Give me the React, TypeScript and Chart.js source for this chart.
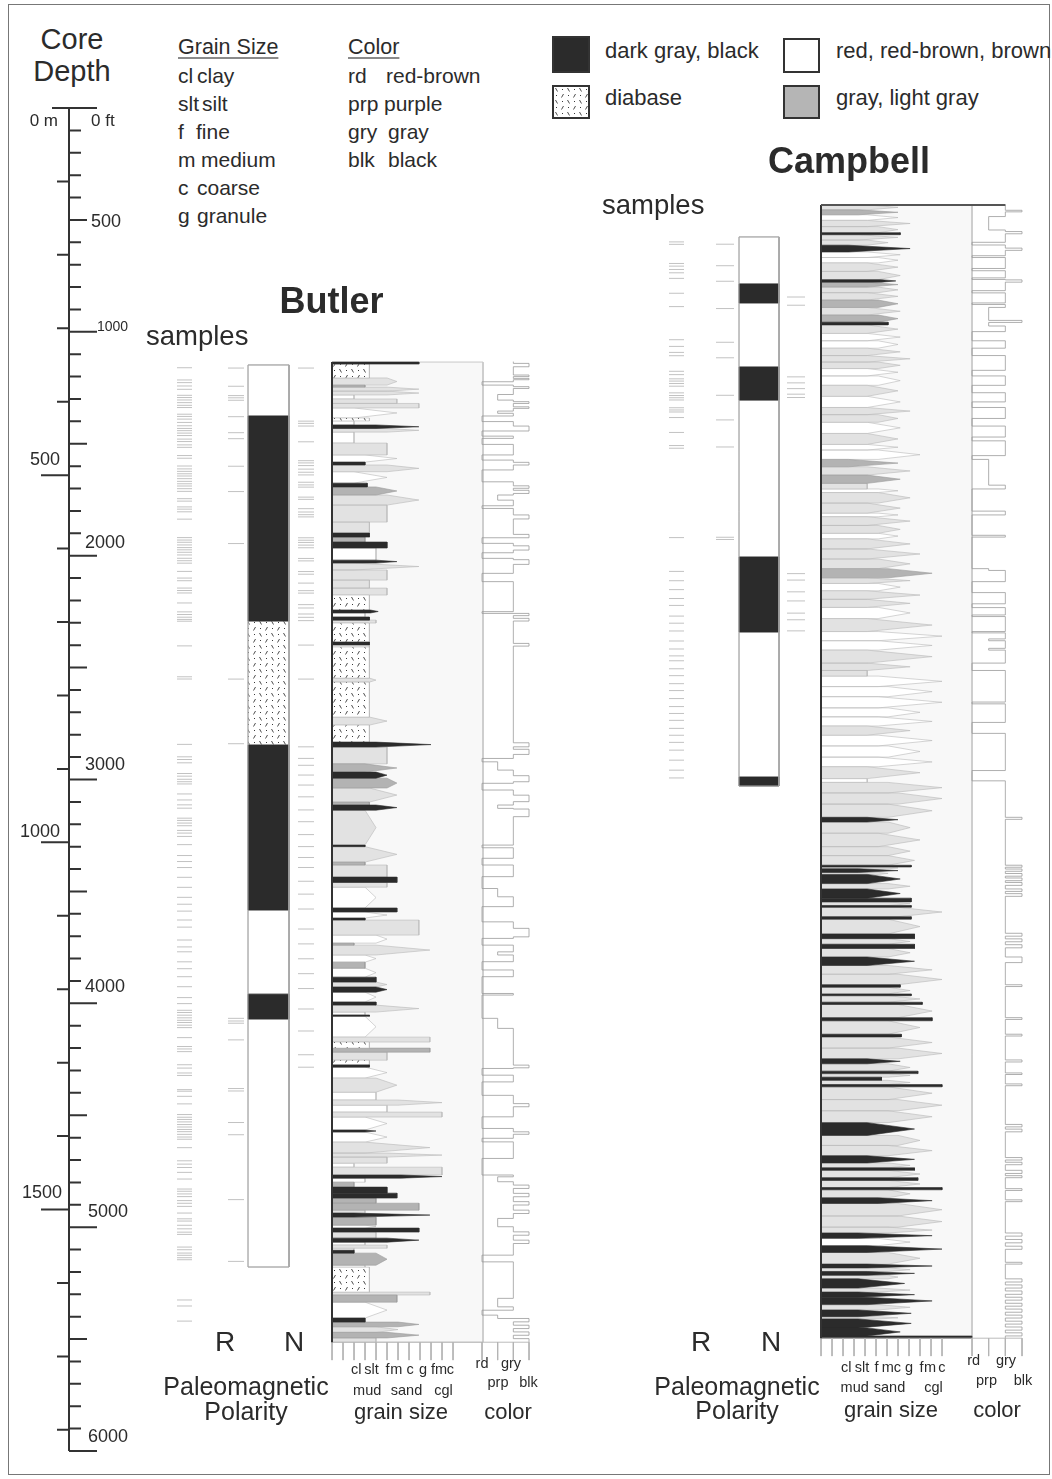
import React, { useEffect, useRef } from "react";
import { Chart, registerables } from "chart.js";

Chart.register(...registerables);

/* ---------------- depth frame (0..6000 ft) ---------------- */
const DEPTH_MAX_FT = 6000;
const PLOT_TOP = 108; // page y of 0 ft
const PLOT_H = 1343; // px spanned by 0..6000 ft
const PAD_V = 4;
const FT_PER_M = 3.28084;
const TICK_FT = 80; // length of the small scale ticks under the logs (in ft)
const GRAIN_PX = 11; // px per grain-size class
const GRAIN_AREA_W = 151;

const FT_TICKS: number[] = [];
for (let f = 100; f <= 6000; f += 100) FT_TICKS.push(f);
const M_TICKS: number[] = [];
for (let m = 100; m <= 1800; m += 100) M_TICKS.push(m);
const GRAIN_TICKS = [0, 1, 2, 3, 4, 5, 6, 7, 8, 9, 10, 11];
const COLOR_TICKS = [0, 1, 2, 3];

const GRAIN_LABELS = ["cl", "slt", "f", "m", "c", "g", "f", "m", "c"];
const GRAIN_GROUPS = ["mud", "sand", "cgl"];
const COLOR_LABELS_TOP = ["rd", "gry"];
const COLOR_LABELS_BOTTOM = ["prp", "blk"];

type Bed = [number, number, number, string]; // [top ft, grain of bed body, grain at spike tip, lithology]
type Step = [number, number]; // [depth ft, colour level 0 rd,1 prp,2 gry,3 blk]

/* ---------------- Butler ---------------- */
const BUTLER_BASE = 5514;
const BUTLER_BEDS: Bed[] = [
  [1135, 7.9, 7.9, "k"], [1144, 3.4, 3.4, "d"], [1206, 5.0, 5.9, "l"], [1238, 3.0, 3.0, "g"],
  [1247, 5.0, 7.9, "l"], [1265, 5.0, 7.9, "l"], [1282, 2.0, 2.0, "w"], [1300, 5.9, 5.9, "l"],
  [1320, 7.9, 7.9, "l"], [1340, 2.0, 5.9, "w"], [1385, 3.4, 3.4, "d"], [1398, 2.0, 2.0, "w"],
  [1416, 4.0, 7.9, "k"], [1432, 5.0, 7.9, "l"], [1448, 2.0, 2.0, "w"], [1497, 5.0, 5.0, "l"],
  [1550, 3.0, 5.9, "w"], [1582, 3.0, 3.0, "k"], [1595, 5.0, 7.9, "l"], [1625, 2.0, 5.0, "w"],
  [1676, 3.2, 3.2, "k"], [1693, 4.0, 5.9, "g"], [1729, 5.0, 7.9, "l"], [1774, 5.0, 5.0, "l"],
  [1850, 3.4, 3.4, "l"], [1899, 3.4, 3.4, "k"], [1917, 3.0, 3.0, "g"], [1939, 5.0, 5.0, "k"],
  [1966, 4.0, 4.0, "w"], [2020, 4.0, 5.9, "k"], [2033, 2.0, 7.9, "l"], [2064, 5.0, 5.0, "l"],
  [2109, 3.4, 3.4, "l"], [2145, 5.0, 5.0, "l"], [2176, 3.4, 3.4, "d"], [2243, 3.5, 4.2, "k"],
  [2256, 3.0, 3.0, "w"], [2274, 3.4, 3.4, "k"], [2288, 4.0, 4.0, "l"], [2301, 3.4, 3.4, "d"],
  [2386, 3.4, 3.4, "k"], [2399, 3.4, 3.4, "w"], [2408, 3.4, 3.4, "d"], [2547, 3.4, 4.0, "l"],
  [2565, 3.4, 3.4, "d"], [2721, 3.4, 5.0, "l"], [2757, 3.4, 3.4, "d"], [2833, 4.0, 9.0, "k"],
  [2855, 5.0, 5.0, "l"], [2930, 3.0, 5.9, "g"], [2967, 4.0, 5.0, "k"], [2994, 5.0, 5.9, "g"],
  [3038, 3.4, 5.9, "l"], [3101, 3.4, 3.4, "g"], [3114, 4.0, 5.9, "k"], [3137, 3.0, 4.0, "l"],
  [3293, 3.0, 3.0, "k"], [3300, 3.0, 5.9, "l"], [3369, 3.0, 3.0, "g"], [3382, 5.0, 5.0, "l"],
  [3436, 5.9, 5.9, "k"], [3460, 5.0, 5.0, "l"], [3481, 3.0, 4.0, "w"], [3574, 5.9, 5.9, "k"],
  [3592, 3.0, 5.0, "w"], [3619, 3.0, 3.0, "k"], [3628, 7.9, 7.9, "l"], [3695, 4.0, 5.0, "w"],
  [3731, 2.0, 2.0, "g"], [3740, 4.0, 8.9, "l"], [3784, 3.0, 4.0, "w"], [3816, 3.0, 3.0, "g"],
  [3843, 3.0, 4.0, "w"], [3883, 4.0, 4.0, "k"], [3905, 4.0, 5.0, "l"], [3927, 4.0, 5.0, "k"],
  [3950, 3.0, 4.0, "w"], [3994, 4.0, 4.0, "k"], [4008, 4.0, 7.9, "l"], [4039, 3.0, 3.0, "w"],
  [4052, 3.4, 3.4, "k"], [4058, 3.0, 4.0, "w"], [4151, 8.9, 8.9, "l"], [4173, 3.4, 3.4, "d"],
  [4200, 8.9, 8.9, "g"], [4218, 5.0, 5.0, "l"], [4254, 3.4, 3.4, "d"], [4275, 3.4, 3.4, "k"],
  [4285, 3.0, 5.0, "w"], [4334, 4.0, 5.9, "l"], [4397, 4.0, 4.0, "w"], [4432, 6.0, 10.0, "l"],
  [4455, 5.0, 5.0, "w"], [4486, 10.0, 10.0, "l"], [4508, 3.0, 5.0, "w"], [4566, 3.0, 4.0, "k"],
  [4575, 3.0, 5.0, "w"], [4620, 3.0, 8.9, "l"], [4669, 5.0, 10.0, "l"], [4687, 5.0, 5.0, "l"],
  [4714, 2.0, 2.0, "w"], [4732, 10.0, 10.0, "l"], [4767, 6.3, 10.0, "k"], [4781, 3.0, 3.0, "w"],
  [4799, 2.0, 2.0, "g"], [4821, 5.0, 5.0, "k"], [4848, 5.9, 5.9, "k"], [4870, 4.0, 4.0, "g"],
  [4893, 7.9, 7.9, "g"], [4924, 3.0, 3.0, "l"], [4937, 2.0, 8.9, "k"], [4955, 4.0, 4.0, "g"],
  [4991, 3.0, 4.0, "w"], [5004, 7.9, 7.9, "k"], [5022, 4.0, 4.0, "l"], [5049, 5.0, 7.9, "k"],
  [5067, 3.0, 3.0, "w"], [5080, 5.0, 5.0, "l"], [5094, 2.0, 2.0, "w"], [5103, 2.0, 2.0, "k"],
  [5116, 4.0, 5.0, "g"], [5170, 3.0, 3.0, "w"], [5179, 3.4, 3.4, "d"], [5290, 8.9, 8.9, "l"],
  [5303, 5.9, 5.9, "g"], [5335, 3.0, 5.0, "w"], [5406, 3.0, 3.0, "k"], [5424, 6.0, 7.9, "g"],
  [5445, 4.0, 6.0, "l"], [5470, 5.0, 7.9, "g"], [5495, 4.0, 4.0, "l"],
];
const BUTLER_COLOR: Step[] = [
  [1133, 2], [1141, 3], [1156, 2], [1193, 3], [1200, 2], [1208, 3], [1214, 2], [1223, 0], [1238, 2],
  [1245, 3], [1253, 2], [1280, 1], [1305, 2], [1312, 3], [1320, 2], [1335, 3], [1342, 2], [1354, 1],
  [1364, 2], [1376, 0], [1401, 2], [1421, 3], [1443, 0], [1466, 2], [1476, 0], [1503, 2], [1550, 0],
  [1573, 2], [1583, 3], [1595, 2], [1617, 0], [1670, 2], [1688, 3], [1699, 2], [1708, 3], [1722, 2],
  [1729, 1], [1752, 2], [1777, 0], [1789, 2], [1818, 3], [1836, 2], [1905, 3], [1920, 0], [1945, 2],
  [1956, 3], [1975, 2], [1987, 0], [2012, 2], [2018, 3], [2039, 2], [2079, 0], [2116, 2], [2250, 0],
  [2258, 3], [2268, 2], [2280, 3], [2292, 2], [2392, 3], [2404, 2], [2836, 3], [2854, 2], [2865, 3],
  [2888, 2], [2906, 0], [2921, 1], [2958, 2], [2983, 3], [3010, 2], [3017, 0], [3047, 2], [3070, 3],
  [3099, 2], [3114, 1], [3129, 2], [3132, 3], [3166, 2], [3293, 0], [3305, 2], [3352, 0], [3382, 2],
  [3434, 0], [3487, 1], [3524, 2], [3568, 0], [3636, 2], [3665, 3], [3703, 2], [3710, 0], [3740, 2],
  [3770, 1], [3784, 2], [3814, 0], [3851, 2], [3881, 0], [3956, 2], [3963, 0], [4067, 1], [4112, 2],
  [4276, 3], [4288, 2], [4291, 0], [4321, 2], [4351, 0], [4411, 2], [4448, 3], [4462, 2], [4507, 0],
  [4559, 2], [4574, 3], [4585, 2], [4603, 0], [4619, 2], [4693, 0], [4767, 2], [4775, 1], [4797, 2],
  [4812, 3], [4827, 2], [4849, 3], [4864, 2], [4886, 3], [4901, 2], [4924, 3], [4939, 2], [4961, 1],
  [4998, 2], [5021, 3], [5036, 2], [5058, 3], [5073, 2], [5125, 0], [5155, 2], [5318, 1], [5356, 2],
  [5371, 0], [5393, 1], [5408, 3], [5423, 2], [5438, 3], [5453, 2], [5468, 3], [5483, 2], [5498, 3],
];
const BUTLER_POL_TOPS = [1148, 1376, 2292, 2846, 3583, 3959, 4070];
const BUTLER_POL_LITH = ["w", "k", "d", "k", "w", "k", "w"];
const BUTLER_POL_BASE = 5178;
const BUTLER_SAMPLES = [
  1148, 1203, 1215, 1230, 1245, 1272, 1282, 1293, 1305, 1317, 1327, 1357, 1367, 1379, 1394, 1409, 1421,
  1431, 1442, 1453, 1469, 1480, 1495, 1506, 1543, 1555, 1590, 1603, 1614, 1625, 1635, 1647, 1659, 1670,
  1680, 1692, 1704, 1737, 1748, 1774, 1784, 1796, 1829, 1912, 1923, 1933, 1945, 1957, 1967, 1978, 1990,
  2005, 2016, 2027, 2064, 2094, 2106, 2139, 2150, 2161, 2206, 2246, 2258, 2270, 2280, 2288, 2399, 2538,
  2548, 2842, 2898, 2910, 2925, 2973, 2985, 2999, 3010, 3020, 3065, 3092, 3114, 3129, 3174, 3184, 3196,
  3208, 3229, 3241, 3256, 3293, 3342, 3369, 3396, 3440, 3485, 3530, 3561, 3592, 3632, 3664, 3722, 3753,
  3775, 3820, 3851, 3887, 3932, 3981, 4008, 4038, 4048, 4060, 4072, 4083, 4093, 4105, 4116, 4161, 4201,
  4212, 4224, 4283, 4298, 4320, 4331, 4395, 4402, 4425, 4459, 4507, 4519, 4529, 4540, 4552, 4563, 4574,
  4584, 4596, 4608, 4618, 4656, 4715, 4730, 4745, 4767, 4797, 4842, 4852, 4864, 4876, 4894, 4906, 4920,
  4950, 4976, 4986, 5005, 5021, 5036, 5046, 5103, 5115, 5130, 5140, 5151, 5160, 5341, 5368, 5436,
];
const BUTLER_R_SAMPLES = [
  1148, 1230, 1272, 1282, 1293, 1367, 1439, 1466, 1590, 1704, 1938, 2548, 2839, 4075, 4087, 4097, 4172,
  4391, 4402, 4544, 4599, 4891, 5169,
];
const BUTLER_N_SAMPLES = [
  1148, 1387, 1397, 1409, 1480, 1565, 1575, 1587, 1603, 1617, 1629, 1662, 1674, 1684, 1729, 1739, 1781,
  1796, 1808, 1818, 1912, 1923, 1933, 1945, 1957, 2005, 2016, 2064, 2076, 2116, 2150, 2161, 2213, 2228,
  2255, 2270, 2285, 2395, 2548, 2853, 2905, 2936, 2980, 3025, 3078, 3137, 3190, 3248, 3302, 3351, 3396,
  3458, 3516, 3583, 3673, 3740, 3807, 3874, 3941, 4033, 4132, 4239, 4295,
];

/* ---------------- Campbell ---------------- */
const CAMPBELL_TOP = 433;
const CAMPBELL_BASE = 5496;
const CAMPBELL_BEDS: Bed[] = [
  [433, 4.2, 7.0, "l"], [455, 3.4, 7.0, "g"], [477, 4.2, 7.0, "w"], [502, 4.2, 8.1, "l"],
  [530, 5.2, 7.0, "l"], [557, 7.2, 7.2, "k"], [566, 3.4, 7.0, "l"], [590, 4.2, 6.1, "l"],
  [613, 2.5, 8.1, "k"], [643, 4.2, 7.2, "w"], [668, 5.2, 7.0, "w"], [692, 4.2, 7.0, "l"],
  [730, 5.2, 7.2, "l"], [767, 5.5, 6.8, "k"], [778, 4.2, 7.0, "g"], [800, 5.2, 7.0, "l"],
  [825, 4.2, 7.0, "l"], [858, 5.2, 7.0, "g"], [891, 4.2, 7.2, "l"], [925, 5.2, 7.0, "g"],
  [957, 6.1, 6.1, "k"], [969, 4.2, 7.0, "l"], [1007, 4.2, 7.2, "w"], [1040, 5.2, 7.0, "w"],
  [1073, 4.2, 7.2, "l"], [1106, 4.2, 8.1, "l"], [1135, 5.2, 7.2, "l"], [1164, 4.2, 7.0, "w"],
  [1197, 5.2, 7.2, "w"], [1239, 4.2, 7.0, "l"], [1288, 4.2, 7.2, "w"], [1338, 4.2, 8.1, "l"],
  [1370, 5.2, 7.0, "l"], [1404, 4.2, 7.2, "w"], [1454, 4.2, 7.0, "l"], [1503, 4.2, 7.0, "w"],
  [1528, 5.2, 9.0, "w"], [1570, 2.5, 7.0, "g"], [1603, 4.2, 8.1, "l"], [1640, 4.2, 7.2, "g"],
  [1677, 4.2, 4.2, "l"], [1702, 5.2, 7.0, "w"], [1718, 5.2, 8.1, "l"], [1765, 4.2, 7.2, "l"],
  [1810, 5.2, 7.0, "w"], [1826, 4.2, 8.1, "l"], [1865, 5.2, 7.2, "l"], [1900, 5.2, 7.0, "w"],
  [1925, 4.2, 8.1, "l"], [1970, 4.2, 9.0, "l"], [2015, 5.2, 8.1, "l"], [2058, 6.1, 10.1, "g"],
  [2099, 4.2, 8.1, "l"], [2124, 5.2, 7.2, "w"], [2157, 4.2, 9.0, "l"], [2195, 4.2, 8.1, "l"],
  [2231, 5.2, 8.1, "w"], [2281, 4.2, 10.1, "l"], [2339, 5.2, 11.0, "w"], [2380, 5.2, 10.1, "w"],
  [2422, 4.2, 10.1, "l"], [2480, 4.2, 8.1, "l"], [2513, 4.2, 4.2, "l"], [2538, 5.2, 11.0, "w"],
  [2585, 6.1, 10.1, "w"], [2630, 5.2, 11.0, "w"], [2680, 6.1, 9.0, "w"], [2720, 5.2, 10.1, "w"],
  [2761, 4.2, 8.1, "l"], [2802, 5.2, 10.1, "w"], [2850, 6.1, 9.0, "w"], [2900, 5.2, 10.1, "w"],
  [2943, 4.2, 9.0, "l"], [2996, 4.2, 4.2, "w"], [3013, 6.1, 11.0, "l"], [3060, 7.0, 11.0, "l"],
  [3110, 6.1, 10.1, "l"], [3169, 4.2, 7.0, "k"], [3190, 6.1, 8.1, "l"], [3240, 5.2, 9.0, "l"],
  [3300, 6.1, 8.1, "l"], [3340, 6.1, 8.5, "l"], [3383, 8.2, 8.2, "k"], [3391, 6.1, 7.0, "l"],
  [3399, 3.4, 7.0, "k"], [3415, 5.2, 6.1, "l"], [3424, 4.2, 7.2, "k"], [3465, 6.1, 8.1, "l"],
  [3489, 4.2, 7.2, "k"], [3530, 8.2, 8.2, "k"], [3547, 6.1, 8.1, "l"], [3563, 8.2, 8.2, "k"],
  [3571, 7.0, 11.0, "l"], [3613, 8.2, 8.2, "k"], [3624, 6.1, 9.0, "l"], [3690, 8.5, 8.5, "k"],
  [3711, 6.1, 8.1, "l"], [3736, 8.5, 8.5, "k"], [3755, 6.1, 8.1, "l"], [3793, 4.2, 8.5, "k"],
  [3831, 6.1, 10.1, "l"], [3870, 7.0, 11.0, "l"], [3917, 7.2, 7.2, "k"], [3928, 6.1, 8.1, "l"],
  [3958, 8.2, 8.2, "k"], [3966, 6.1, 9.0, "l"], [3995, 9.2, 9.2, "k"], [4005, 7.0, 10.1, "l"],
  [4064, 10.1, 10.1, "k"], [4078, 6.1, 9.0, "l"], [4138, 7.3, 7.3, "k"], [4150, 6.1, 10.1, "l"],
  [4200, 7.0, 11.0, "l"], [4248, 4.2, 7.2, "k"], [4270, 6.1, 8.1, "l"], [4303, 8.8, 8.8, "k"],
  [4314, 6.1, 8.1, "l"], [4330, 5.5, 5.5, "k"], [4344, 6.1, 8.1, "l"], [4363, 11.0, 11.0, "k"],
  [4373, 6.1, 10.1, "l"], [4430, 7.0, 11.0, "l"], [4480, 6.1, 10.1, "l"], [4533, 4.2, 8.5, "k"],
  [4590, 7.0, 9.0, "l"], [4635, 6.1, 10.1, "l"], [4681, 4.2, 8.5, "k"], [4713, 6.1, 8.1, "l"],
  [4735, 8.5, 8.5, "k"], [4746, 6.1, 9.0, "l"], [4779, 8.8, 8.8, "k"], [4791, 6.1, 9.0, "l"],
  [4823, 11.0, 11.0, "k"], [4833, 6.1, 8.1, "l"], [4869, 5.2, 10.1, "k"], [4894, 7.0, 11.0, "l"],
  [4950, 7.0, 11.0, "l"], [5000, 6.1, 10.1, "l"], [5026, 3.4, 10.1, "k"], [5050, 5.2, 8.1, "w"],
  [5083, 4.2, 11.0, "k"], [5113, 6.1, 9.0, "l"], [5165, 4.2, 10.1, "k"], [5182, 6.1, 8.1, "l"],
  [5198, 4.2, 8.5, "k"], [5215, 6.1, 7.0, "l"], [5231, 3.4, 7.6, "k"], [5272, 5.2, 8.1, "l"],
  [5290, 3.4, 8.5, "k"], [5313, 4.2, 10.1, "k"], [5346, 5.2, 8.1, "l"], [5370, 3.4, 8.2, "k"],
  [5400, 5.2, 7.0, "l"], [5410, 3.4, 8.2, "k"], [5450, 4.2, 7.2, "k"], [5486, 13.7, 13.7, "k"],
];
const CAMPBELL_COLOR: Step[] = [
  [431, 2], [457, 3], [464, 2], [485, 1], [545, 2], [552, 3], [562, 2], [600, 0], [612, 2], [626, 3],
  [636, 2], [660, 0], [668, 2], [717, 0], [727, 2], [759, 0], [766, 2], [768, 3], [778, 2], [816, 0],
  [826, 2], [871, 0], [878, 2], [891, 1], [949, 3], [958, 1], [974, 2], [999, 0], [1040, 2], [1073, 0],
  [1106, 2], [1172, 0], [1197, 2], [1239, 0], [1272, 2], [1313, 0], [1338, 2], [1387, 0], [1421, 2],
  [1470, 0], [1487, 2], [1553, 0], [1570, 1], [1685, 2], [1702, 0], [1801, 2], [1818, 0], [1909, 2],
  [1917, 0], [2058, 1], [2066, 2], [2116, 0], [2165, 2], [2215, 0], [2232, 2], [2265, 0], [2272, 2],
  [2339, 0], [2345, 2], [2372, 1], [2380, 2], [2414, 1], [2422, 2], [2480, 0], [2513, 2], [2654, 0],
  [2662, 2], [2745, 0], [2794, 2], [2960, 0], [3006, 2], [3169, 3], [3178, 2], [3383, 3], [3392, 2],
  [3400, 3], [3410, 2], [3420, 3], [3432, 2], [3440, 3], [3452, 2], [3460, 3], [3473, 2], [3489, 3],
  [3500, 2], [3510, 3], [3522, 2], [3687, 3], [3700, 2], [3712, 3], [3725, 2], [3738, 3], [3752, 2],
  [3793, 3], [3818, 2], [3917, 3], [3925, 2], [4064, 3], [4072, 2], [4138, 3], [4146, 2], [4253, 3],
  [4262, 2], [4311, 3], [4318, 2], [4360, 3], [4368, 2], [4541, 3], [4552, 2], [4562, 3], [4574, 2],
  [4689, 3], [4700, 2], [4710, 3], [4721, 2], [4746, 3], [4760, 2], [4770, 3], [4779, 2], [4828, 3],
  [4836, 2], [4878, 3], [4886, 2], [5026, 3], [5040, 2], [5055, 3], [5070, 2], [5085, 3], [5099, 2],
  [5157, 3], [5165, 2], [5231, 3], [5245, 2], [5258, 3], [5272, 2], [5285, 3], [5300, 2], [5313, 3],
  [5326, 2], [5340, 3], [5353, 2], [5366, 3], [5380, 2], [5393, 3], [5406, 2], [5420, 3], [5433, 2],
  [5446, 3], [5460, 2], [5472, 3], [5486, 2],
];
const CAMPBELL_POL_TOPS = [576, 786, 871, 1157, 1305, 2006, 2341, 2989];
const CAMPBELL_POL_LITH = ["w", "k", "w", "k", "w", "k", "w", "k"];
const CAMPBELL_POL_BASE = 3029;
const CAMPBELL_SAMPLES = [
  582, 593, 679, 691, 706, 721, 746, 813, 873, 1022, 1052, 1079, 1094, 1164, 1179, 1198, 1208, 1219,
  1231, 1261, 1273, 1283, 1293, 1328, 1338, 1347, 1372, 1439, 1498, 1510, 1912, 2064, 2106, 2146, 2186,
  2217, 2265, 2297, 2332, 2377, 2413, 2444, 2466, 2502, 2533, 2569, 2600, 2636, 2672, 2703, 2734, 2770,
  2801, 2833, 2868, 2913, 2958, 2993,
];
const CAMPBELL_R_SAMPLES = [587, 684, 754, 877, 1029, 1099, 1268, 1379, 1501, 1908, 1918];
const CAMPBELL_N_SAMPLES = [825, 862, 1185, 1212, 1238, 1263, 1278, 2072, 2101, 2154, 2195, 2250, 2280, 2330];

/* ---------------- styling ---------------- */
const FONT = '"Liberation Sans", Arial, Helvetica, sans-serif';
const INK = "#2b2b2b";
const LITH_KEYS = ["w", "l", "g", "d", "k"];

function diabaseTile(): HTMLCanvasElement {
  const c = document.createElement("canvas");
  c.width = 12;
  c.height = 12;
  const g = c.getContext("2d")!;
  g.fillStyle = "#ffffff";
  g.fillRect(0, 0, 12, 12);
  g.strokeStyle = "#3a3a3a";
  g.lineWidth = 0.9;
  g.beginPath();
  g.moveTo(1.5, 1);
  g.lineTo(3.5, 4.5);
  g.moveTo(9.5, 7);
  g.lineTo(7.5, 10.5);
  g.stroke();
  g.fillStyle = "#3a3a3a";
  g.fillRect(8, 2, 1, 1);
  g.fillRect(2, 8, 1, 1);
  return c;
}

function lithFill(l: string, pat: any) {
  if (l === "k") return "#2b2b2b";
  if (l === "g") return "#b3b3b3";
  if (l === "l") return "#e2e2e2";
  if (l === "d") return pat;
  return "#ffffff";
}
function lithEdge(l: string) {
  if (l === "k") return "#2b2b2b";
  if (l === "g") return "#9a9a9a";
  return "#b9b9b9";
}

/* ---------------- data -> shapes ---------------- */
// each bed: body out to grain b[1], with a spike out to grain b[2] at mid-bed
function bedShapes(beds: Bed[], base: number, lith: string) {
  const pts: any[] = [];
  beds.forEach((b, i) => {
    if (b[3] !== lith) return;
    const top = b[0];
    const bot = i + 1 < beds.length ? beds[i + 1][0] : base;
    const mid = (top + bot) / 2;
    pts.push(
      { x: 0, y: top },
      { x: b[1], y: top },
      { x: b[2], y: mid },
      { x: b[1], y: bot },
      { x: 0, y: bot },
      { x: 0, y: top },
      { x: null, y: null }
    );
  });
  return pts;
}
function zonesToBeds(tops: number[], liths: string[]): Bed[] {
  return tops.map((t, i) => [t, 1, 1, liths[i]] as Bed);
}
function rectPts(x0: number, x1: number, y0: number, y1: number) {
  return [{ x: x0, y: y0 }, { x: x1, y: y0 }, { x: x1, y: y1 }, { x: x0, y: y1 }, { x: x0, y: y0 }];
}
function vTicks(values: number[], y0: number, y1: number) {
  const pts: any[] = [];
  for (const v of values) pts.push({ x: v, y: y0 }, { x: v, y: y1 }, { x: null, y: null });
  return pts;
}
function hTicks(depths: number[], lenOf: (d: number) => number, sign: number) {
  const pts: any[] = [];
  for (const d of depths) pts.push({ x: 0, y: d }, { x: sign * lenOf(d), y: d }, { x: null, y: null });
  return pts;
}

function lineDs(data: any[], color: any, width: number, order = 1, extra: any = {}) {
  return {
    data,
    showLine: true,
    borderColor: color,
    borderWidth: width,
    pointRadius: 0,
    pointHoverRadius: 0,
    fill: false,
    spanGaps: false,
    clip: false,
    tension: 0,
    order,
    ...extra,
  };
}
function polyDs(data: any[], fillColor: any, edge: string, width: number, order: number) {
  return lineDs(data, edge, width, order, { fill: "shape", backgroundColor: fillColor });
}

function opts(xMin: number, xMax: number, padX: number) {
  return {
    animation: false,
    responsive: false,
    maintainAspectRatio: false,
    events: [],
    layout: { padding: { left: padX, right: padX, top: PAD_V, bottom: PAD_V } },
    plugins: { legend: { display: false }, tooltip: { enabled: false }, title: { display: false } },
    scales: {
      x: { type: "linear", min: xMin, max: xMax, display: false },
      y: { type: "linear", min: 0, max: DEPTH_MAX_FT, reverse: true, display: false },
    },
  };
}

/* ---------------- chart builders ---------------- */
function depthAxisBuild() {
  return () => {
    const ftLen = (f: number) => (f % 1000 === 0 ? 28 : f % 500 === 0 ? 18 : 12);
    const mDepths = M_TICKS.map((m) => m * FT_PER_M);
    const mLen = (d: number) => (Math.round(d / FT_PER_M) % 500 === 0 ? 28 : 12);
    return {
      type: "scatter",
      data: {
        datasets: [
          lineDs([{ x: 0, y: 0 }, { x: 0, y: DEPTH_MAX_FT }], "#333", 2),
          lineDs([{ x: -17, y: 0 }, { x: 28, y: 0 }], "#333", 2),
          lineDs(hTicks(FT_TICKS, ftLen, 1), "#333", 2),
          lineDs(hTicks(mDepths, mLen, -1), "#333", 2),
        ],
      },
      options: opts(-30, 30, 2),
    };
  };
}

function samplesBuild(depths: number[], half: number) {
  return () => ({
    type: "scatter",
    data: {
      datasets: [
        {
          data: depths.map((d) => ({ x: 0, y: d })),
          showLine: false,
          pointStyle: "line",
          pointRadius: half,
          pointHoverRadius: half,
          pointBorderColor: "#c2c2c2",
          pointBorderWidth: 1,
          clip: false,
        },
      ],
    },
    options: opts(-1, 1, 2),
  });
}

function polarityBuild(tops: number[], liths: string[], base: number) {
  return (ctx: CanvasRenderingContext2D) => {
    const pat = ctx.createPattern(diabaseTile(), "repeat");
    const beds = zonesToBeds(tops, liths);
    const ds: any[] = [];
    LITH_KEYS.forEach((k, i) => {
      if (liths.indexOf(k) < 0) return;
      ds.push(polyDs(bedShapes(beds, base, k), lithFill(k, pat), k === "k" ? "#2b2b2b" : "#b0b0b0", 0.8, 10 - i));
    });
    ds.push(lineDs(rectPts(0, 1, tops[0], base), "#a8a8a8", 1, 1));
    return { type: "scatter", data: { datasets: ds }, options: opts(0, 1, 2) };
  };
}

function grainBuild(beds: Bed[], top: number, base: number, topBar: boolean) {
  return (ctx: CanvasRenderingContext2D) => {
    const pat = ctx.createPattern(diabaseTile(), "repeat");
    const xMax = GRAIN_AREA_W / GRAIN_PX;
    const ds: any[] = [];
    ds.push(polyDs(rectPts(0, xMax, top, base), "#f8f8f8", "#c8c8c8", 1, 20));
    LITH_KEYS.forEach((k, i) => ds.push(polyDs(bedShapes(beds, base, k), lithFill(k, pat), lithEdge(k), 0.6, 10 - i)));
    ds.push(lineDs([{ x: 0, y: top }, { x: 0, y: base }], "#333", 2, 1));
    ds.push(lineDs(vTicks(GRAIN_TICKS, base, base + TICK_FT), "#b4b4b4", 1, 1));
    ds.push(lineDs([{ x: 0, y: base }, { x: xMax, y: base }], "#bcbcbc", 1, 1));
    if (topBar) ds.push(lineDs([{ x: 0, y: top }, { x: xMax, y: top }], "#555", 2, 0));
    return { type: "scatter", data: { datasets: ds }, options: opts(0, xMax, 6) };
  };
}

function colorBuild(steps: Step[], top: number, base: number, topBar: boolean) {
  return () => {
    const pts = steps.map((s) => ({ x: s[1], y: s[0] }));
    pts.push({ x: steps[steps.length - 1][1], y: base });
    const ds: any[] = [
      lineDs(pts, "#9a9a9a", 0.8, 5, { stepped: "after" }),
      lineDs(vTicks(COLOR_TICKS, base, base + TICK_FT), "#b4b4b4", 1, 1),
      lineDs([{ x: 0, y: base }, { x: 3, y: base }], "#bcbcbc", 1, 1),
    ];
    if (topBar) ds.push(lineDs([{ x: 0, y: top }, { x: 2, y: top }], "#555", 2, 0));
    return { type: "scatter", data: { datasets: ds }, options: opts(0, 3, 6) };
  };
}

/* ---------------- components ---------------- */
function Panel({ areaLeft, areaWidth, padX, build }: { areaLeft: number; areaWidth: number; padX: number; build: any }) {
  const ref = useRef<HTMLCanvasElement>(null);
  const w = Math.round(areaWidth + 2 * padX);
  const h = PLOT_H + 2 * PAD_V;
  useEffect(() => {
    const canvas = ref.current!;
    const ctx = canvas.getContext("2d")!;
    const chart = new Chart(canvas, build(ctx));
    return () => chart.destroy();
  }, []);
  return (
    <canvas
      ref={ref}
      width={w}
      height={h}
      style={{ position: "absolute", left: areaLeft - padX, top: PLOT_TOP - PAD_V, width: w, height: h }}
    />
  );
}

function T({ x, y, size, children, align = "left", bold = false, underline = false }: any) {
  const w = 700;
  const left = align === "left" ? x : align === "center" ? x - w / 2 : x - w;
  return (
    <div
      style={{
        position: "absolute",
        left,
        top: y - 0.9465 * size,
        width: w,
        textAlign: align,
        fontSize: size,
        lineHeight: 1.2,
        fontFamily: FONT,
        fontWeight: bold ? 700 : 400,
        color: INK,
        whiteSpace: "pre",
        textDecoration: underline ? "underline" : "none",
        textDecorationColor: "#8a8a8a",
        textUnderlineOffset: "3px",
      }}
    >
      {children}
    </div>
  );
}

function PatternBox({ left, top, width, height }: any) {
  const ref = useRef<HTMLCanvasElement>(null);
  useEffect(() => {
    const c = ref.current!;
    const g = c.getContext("2d")!;
    const pat = g.createPattern(diabaseTile(), "repeat");
    if (pat) g.fillStyle = pat;
    g.fillRect(0, 0, width, height);
  }, []);
  return (
    <div style={{ position: "absolute", left, top, width, height, border: "2px solid #333", boxSizing: "border-box", overflow: "hidden" }}>
      <canvas ref={ref} width={width} height={height} style={{ display: "block" }} />
    </div>
  );
}

function Box({ left, top, width, height, bg }: any) {
  return <div style={{ position: "absolute", left, top, width, height, background: bg, border: "2px solid #333", boxSizing: "border-box" }} />;
}

type WellLayout = {
  samples: number; sHalf: number; r: number; n: number; rnHalf: number; polL: number; polW: number;
  grainL: number; colorL: number; colorStep: number;
};
const BUTLER_LAYOUT: WellLayout = { samples: 184.5, sHalf: 7.5, r: 235.5, n: 306, rnHalf: 8, polL: 248, polW: 41, grainL: 332, colorL: 482, colorStep: 15.8 };
const CAMPBELL_LAYOUT: WellLayout = { samples: 676.5, sHalf: 7.5, r: 724.5, n: 796, rnHalf: 9, polL: 739, polW: 40, grainL: 821, colorL: 972, colorStep: 16.6 };

function Well({ L, beds, top, base, color, polTops, polLith, polBase, samples, rSamples, nSamples, topBar }: any) {
  return (
    <>
      <Panel areaLeft={L.samples - L.sHalf} areaWidth={2 * L.sHalf} padX={2} build={samplesBuild(samples, L.sHalf)} />
      <Panel areaLeft={L.r - L.rnHalf} areaWidth={2 * L.rnHalf} padX={2} build={samplesBuild(rSamples, L.rnHalf)} />
      <Panel areaLeft={L.polL} areaWidth={L.polW} padX={2} build={polarityBuild(polTops, polLith, polBase)} />
      <Panel areaLeft={L.n - L.rnHalf} areaWidth={2 * L.rnHalf} padX={2} build={samplesBuild(nSamples, L.rnHalf)} />
      <Panel areaLeft={L.grainL} areaWidth={GRAIN_AREA_W} padX={6} build={grainBuild(beds, top, base, topBar)} />
      <Panel areaLeft={L.colorL} areaWidth={3 * L.colorStep} padX={6} build={colorBuild(color, top, base, topBar)} />
    </>
  );
}

function AxisLabels({ grainCenters, groupCenters, row1, row2, colorCenters, cRow1, cRow2 }: any) {
  return (
    <>
      {GRAIN_LABELS.map((t, i) => (
        <T key={"g" + i} x={grainCenters[i]} y={row1} size={14.5} align="center">{t}</T>
      ))}
      {GRAIN_GROUPS.map((t, i) => (
        <T key={"gg" + i} x={groupCenters[i]} y={row2} size={14.5} align="center">{t}</T>
      ))}
      {COLOR_LABELS_TOP.map((t, i) => (
        <T key={"c" + i} x={colorCenters[i * 2]} y={cRow1} size={14.5} align="center">{t}</T>
      ))}
      {COLOR_LABELS_BOTTOM.map((t, i) => (
        <T key={"cb" + i} x={colorCenters[i * 2 + 1]} y={cRow2} size={14.5} align="center">{t}</T>
      ))}
    </>
  );
}

const GRAIN_LIST = [["cl", "clay"], ["slt", "silt"], ["f", "fine"], ["m", "medium"], ["c", "coarse"], ["g", "granule"]];
const GRAIN_LIST_X = [197, 202, 196, 201, 197, 197];
const COLOR_LIST = [["rd", "red-brown"], ["prp", "purple"], ["gry", "gray"], ["blk", "black"]];
const COLOR_LIST_X = [386, 384, 388, 388];

export default function App() {
  return (
    <div style={{ position: "absolute", left: 0, top: 0, width: 1052, height: 1479, overflow: "hidden", background: "#fff" }}>
      <div style={{ position: "absolute", left: 8, top: 4, width: 1042, height: 1471, border: "1px solid #777", boxSizing: "border-box" }} />

      {/* header / legend */}
      <T x={72} y={49} size={29} align="center">Core</T>
      <T x={72} y={81} size={29} align="center">Depth</T>
      <T x={178} y={55} size={21.5} underline>Grain Size</T>
      {GRAIN_LIST.map((r, i) => (
        <React.Fragment key={"gl" + i}>
          <T x={178} y={83 + 28 * i} size={21}>{r[0]}</T>
          <T x={GRAIN_LIST_X[i]} y={83 + 28 * i} size={21}>{r[1]}</T>
        </React.Fragment>
      ))}
      <T x={348} y={55} size={21.5} underline>Color</T>
      {COLOR_LIST.map((r, i) => (
        <React.Fragment key={"cl" + i}>
          <T x={348} y={83 + 28 * i} size={21}>{r[0]}</T>
          <T x={COLOR_LIST_X[i]} y={83 + 28 * i} size={21}>{r[1]}</T>
        </React.Fragment>
      ))}
      <Box left={552} top={36} width={38} height={37} bg="#2b2b2b" />
      <PatternBox left={552} top={85} width={38} height={34} />
      <Box left={783} top={38} width={37} height={35} bg="#ffffff" />
      <Box left={783} top={85} width={37} height={34} bg="#b5b5b5" />
      <T x={605} y={59} size={22}>dark gray, black</T>
      <T x={605} y={106} size={22}>diabase</T>
      <T x={836} y={59} size={22}>red, red-brown, brown</T>
      <T x={836} y={106} size={22}>gray, light gray</T>

      {/* depth axis */}
      <Panel areaLeft={39} areaWidth={60} padX={2} build={depthAxisBuild()} />
      <T x={58} y={127} size={17} align="right">0 m</T>
      <T x={91} y={127} size={17}>0 ft</T>
      <T x={91} y={228} size={18}>500</T>
      <T x={97} y={331} size={14}>1000</T>
      <T x={85} y={549} size={18}>2000</T>
      <T x={85} y={771} size={18}>3000</T>
      <T x={85} y={993} size={18}>4000</T>
      <T x={88} y={1218} size={18}>5000</T>
      <T x={88} y={1443} size={18}>6000</T>
      <T x={60} y={466} size={18} align="right">500</T>
      <T x={60} y={838} size={18} align="right">1000</T>
      <T x={62} y={1199} size={18} align="right">1500</T>

      {/* Butler */}
      <T x={331.5} y={313} size={36} bold align="center">Butler</T>
      <T x={146} y={345} size={27.5}>samples</T>
      <Well
        L={BUTLER_LAYOUT}
        beds={BUTLER_BEDS}
        top={BUTLER_BEDS[0][0]}
        base={BUTLER_BASE}
        color={BUTLER_COLOR}
        polTops={BUTLER_POL_TOPS}
        polLith={BUTLER_POL_LITH}
        polBase={BUTLER_POL_BASE}
        samples={BUTLER_SAMPLES}
        rSamples={BUTLER_R_SAMPLES}
        nSamples={BUTLER_N_SAMPLES}
        topBar={false}
      />
      <T x={225} y={1352} size={28} align="center">R</T>
      <T x={294} y={1352} size={28} align="center">N</T>
      <T x={246} y={1395} size={25} align="center">Paleomagnetic</T>
      <T x={246} y={1420} size={25} align="center">Polarity</T>
      <T x={401} y={1420} size={22} align="center">grain size</T>
      <T x={508} y={1420} size={22} align="center">color</T>
      <AxisLabels
        grainCenters={[356.3, 371.5, 387.5, 396.2, 410, 423, 433, 441, 450.3]}
        groupCenters={[367.2, 406.5, 443.5]}
        row1={1375}
        row2={1396}
        colorCenters={[482, 498, 511, 528.5]}
        cRow1={1369}
        cRow2={1388}
      />

      {/* Campbell */}
      <T x={849} y={173} size={36} bold align="center">Campbell</T>
      <T x={602} y={214} size={27.5}>samples</T>
      <Well
        L={CAMPBELL_LAYOUT}
        beds={CAMPBELL_BEDS}
        top={CAMPBELL_TOP}
        base={CAMPBELL_BASE}
        color={CAMPBELL_COLOR}
        polTops={CAMPBELL_POL_TOPS}
        polLith={CAMPBELL_POL_LITH}
        polBase={CAMPBELL_POL_BASE}
        samples={CAMPBELL_SAMPLES}
        rSamples={CAMPBELL_R_SAMPLES}
        nSamples={CAMPBELL_N_SAMPLES}
        topBar={true}
      />
      <T x={701} y={1352} size={28} align="center">R</T>
      <T x={771} y={1352} size={28} align="center">N</T>
      <T x={737} y={1395} size={25} align="center">Paleomagnetic</T>
      <T x={737} y={1419} size={25} align="center">Polarity</T>
      <T x={891} y={1418} size={22} align="center">grain size</T>
      <T x={997} y={1418} size={22} align="center">color</T>
      <AxisLabels
        grainCenters={[846.2, 862, 876.5, 887.7, 897.3, 909, 921.5, 930, 941.8]}
        groupCenters={[854.7, 889.5, 933.5]}
        row1={1373}
        row2={1393}
        colorCenters={[973.7, 986.5, 1006, 1023]}
        cRow1={1366}
        cRow2={1386}
      />
    </div>
  );
}
